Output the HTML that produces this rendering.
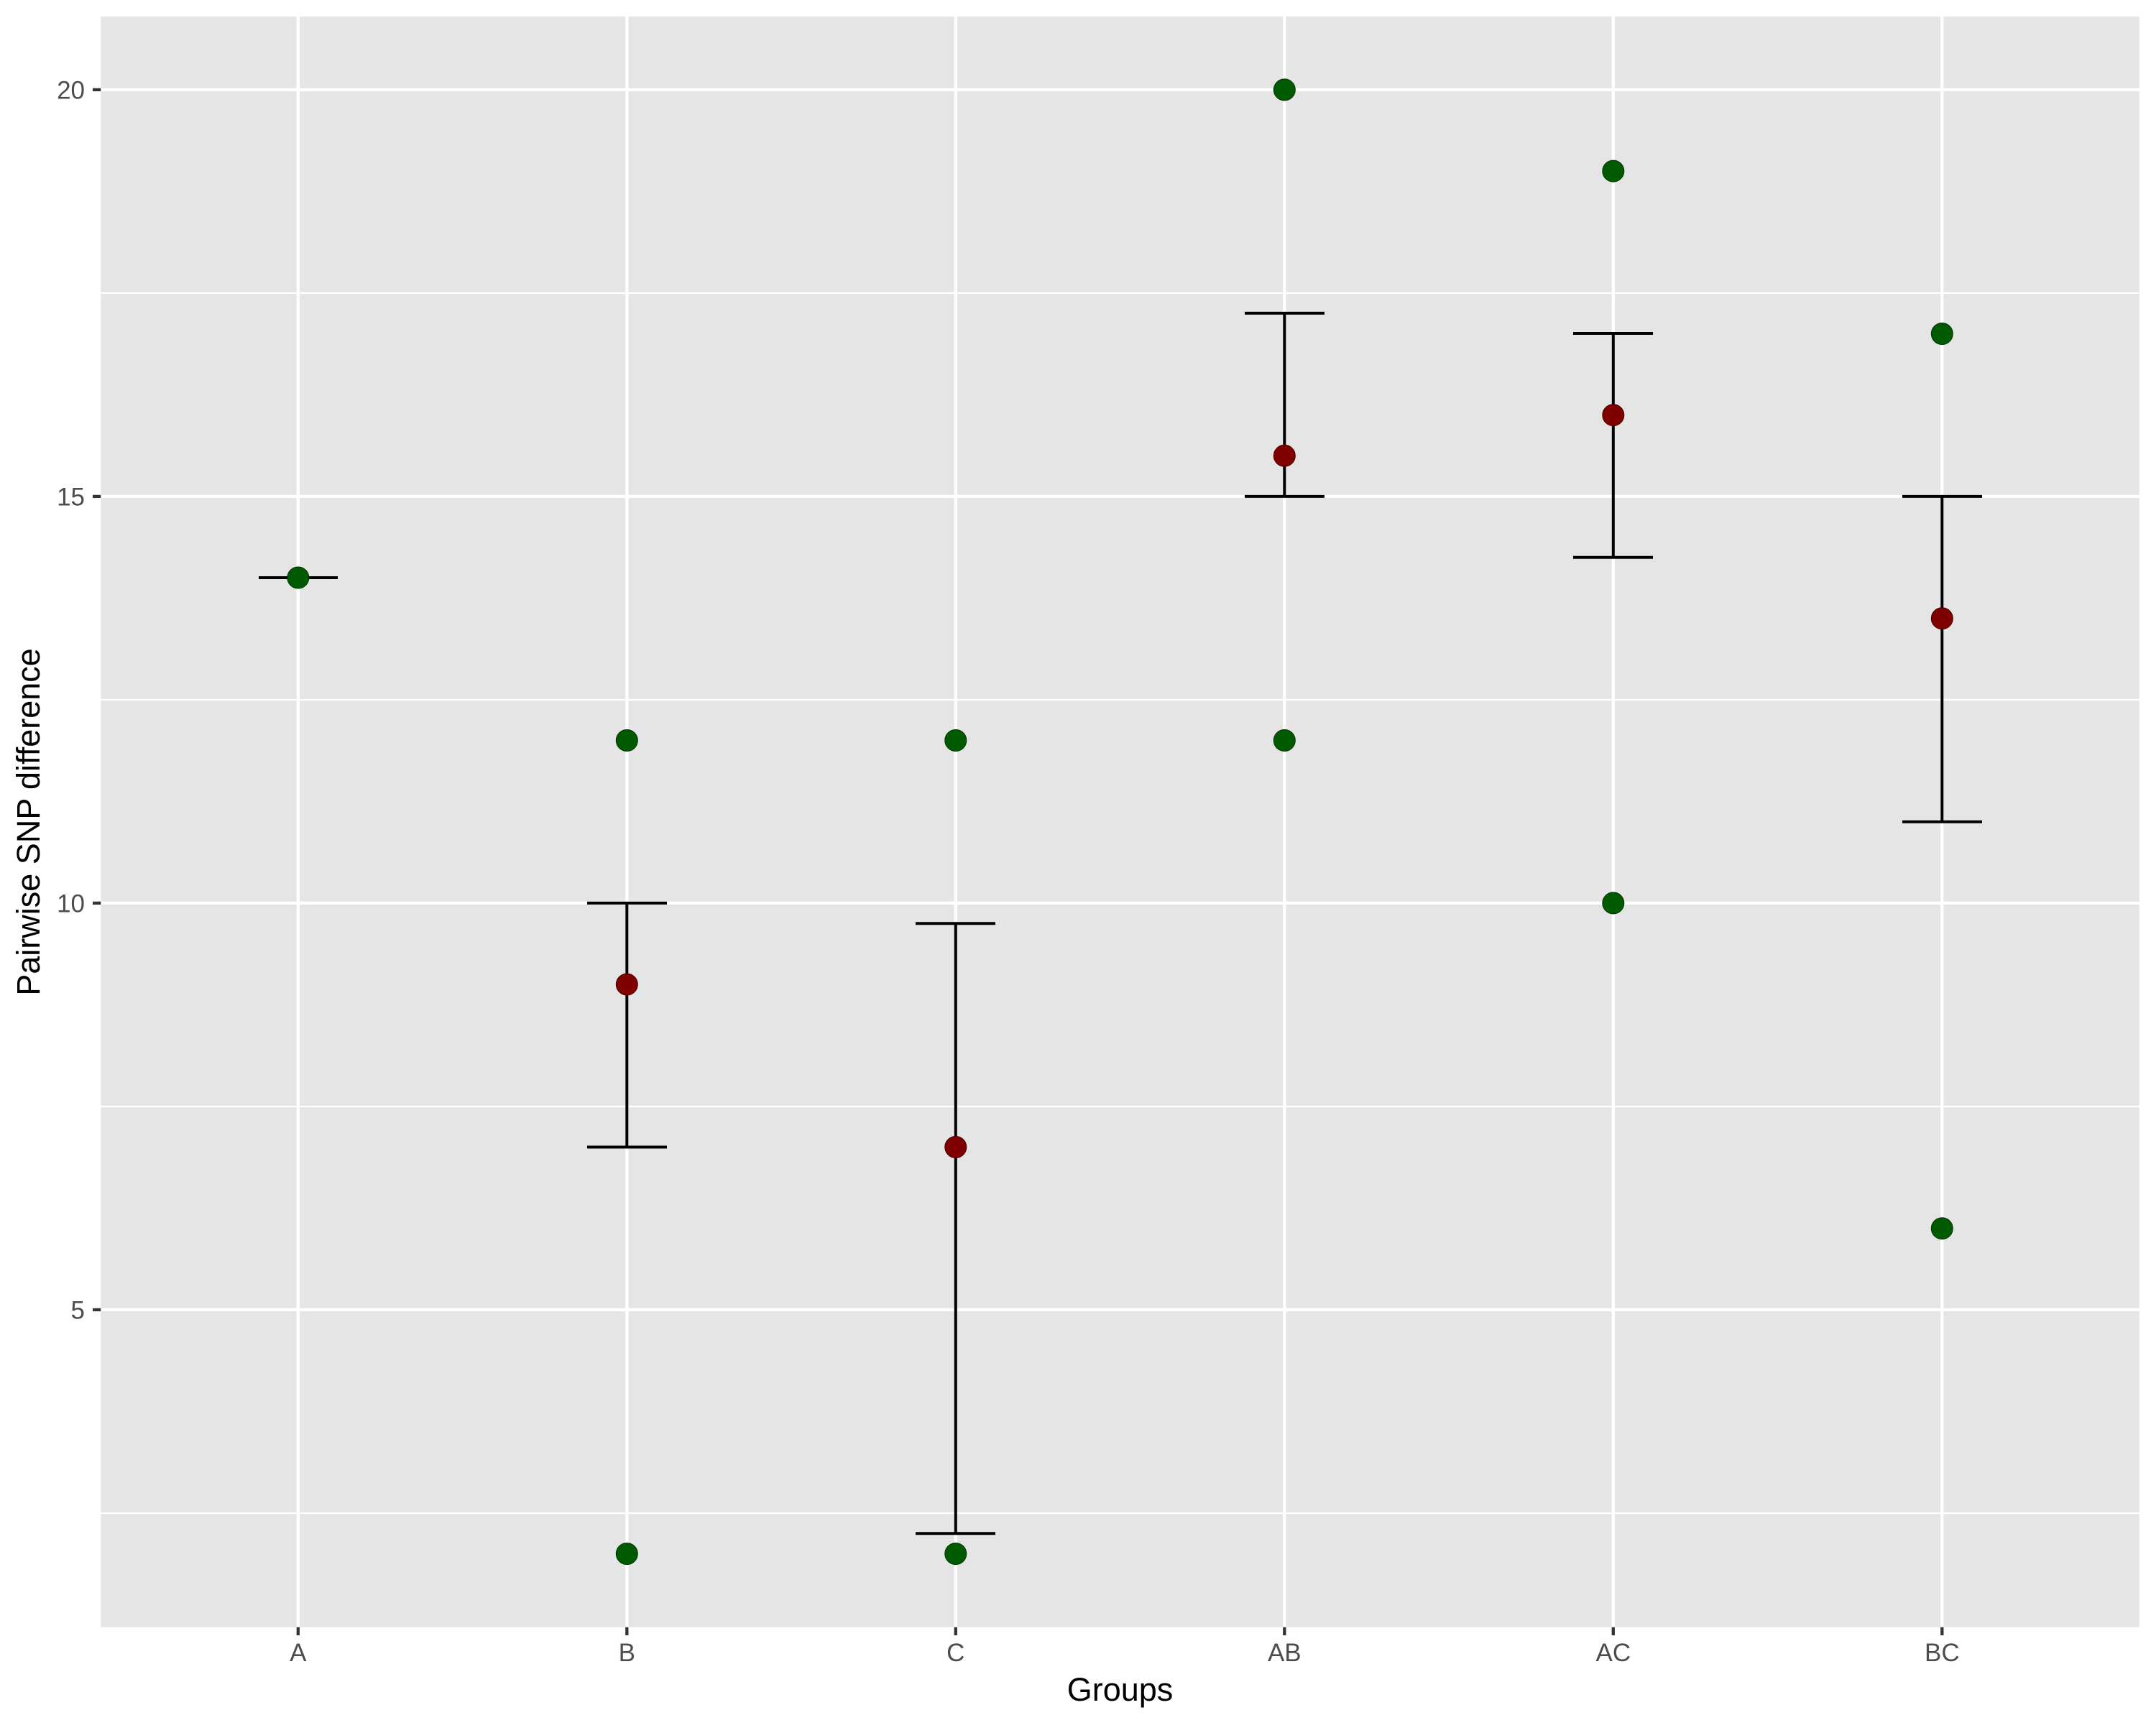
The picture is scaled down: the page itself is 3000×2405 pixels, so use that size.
<!DOCTYPE html>
<html><head><meta charset="utf-8"><style>html,body{margin:0;padding:0;background:#fff}</style></head>
<body>
<svg width="3000" height="2400" viewBox="0 0 3000 2400" xmlns="http://www.w3.org/2000/svg" font-family="Liberation Sans, Arial, sans-serif">
<rect x="140.3" y="23" width="2836.5" height="2241.7" fill="#e5e5e5"/>
<g stroke="#fff" stroke-width="2.2">
<line x1="140.3" x2="2976.8" y1="407.9" y2="407.9"/>
<line x1="140.3" x2="2976.8" y1="974" y2="974"/>
<line x1="140.3" x2="2976.8" y1="1540" y2="1540"/>
<line x1="140.3" x2="2976.8" y1="2106" y2="2106"/>
</g>
<g stroke="#fff" stroke-width="4.3">
<line x1="140.3" x2="2976.8" y1="124.9" y2="124.9"/>
<line x1="140.3" x2="2976.8" y1="690.9" y2="690.9"/>
<line x1="140.3" x2="2976.8" y1="1256.9" y2="1256.9"/>
<line x1="140.3" x2="2976.8" y1="1822.9" y2="1822.9"/>
<line x1="414.8" x2="414.8" y1="23" y2="2264.7"/>
<line x1="872.3" x2="872.3" y1="23" y2="2264.7"/>
<line x1="1329.8" x2="1329.8" y1="23" y2="2264.7"/>
<line x1="1787.3" x2="1787.3" y1="23" y2="2264.7"/>
<line x1="2244.8" x2="2244.8" y1="23" y2="2264.7"/>
<line x1="2702.3" x2="2702.3" y1="23" y2="2264.7"/>
</g>
<g stroke="#333" stroke-width="4.3">
<line x1="129" x2="140.3" y1="124.9" y2="124.9"/>
<line x1="129" x2="140.3" y1="690.9" y2="690.9"/>
<line x1="129" x2="140.3" y1="1256.9" y2="1256.9"/>
<line x1="129" x2="140.3" y1="1822.9" y2="1822.9"/>
<line x1="414.8" x2="414.8" y1="2264.7" y2="2276"/>
<line x1="872.3" x2="872.3" y1="2264.7" y2="2276"/>
<line x1="1329.8" x2="1329.8" y1="2264.7" y2="2276"/>
<line x1="1787.3" x2="1787.3" y1="2264.7" y2="2276"/>
<line x1="2244.8" x2="2244.8" y1="2264.7" y2="2276"/>
<line x1="2702.3" x2="2702.3" y1="2264.7" y2="2276"/>
</g>
<g fill="#4d4d4d" font-size="35" text-anchor="end">
<text x="118" y="137.5">20</text>
<text x="118" y="703.5">15</text>
<text x="118" y="1269.5">10</text>
<text x="118" y="1835.5">5</text>
</g>
<g fill="#4d4d4d" font-size="35" text-anchor="middle">
<text x="414.8" y="2312">A</text>
<text x="872.3" y="2312">B</text>
<text x="1329.8" y="2312">C</text>
<text x="1787.3" y="2312">AB</text>
<text x="2244.8" y="2312">AC</text>
<text x="2702.3" y="2312">BC</text>
</g>
<text x="1558.5" y="2367" font-size="45" text-anchor="middle" fill="#000">Groups</text>
<text transform="translate(55,1144) rotate(-90)" font-size="45" text-anchor="middle" fill="#000">Pairwise SNP difference</text>
<g stroke="#000" stroke-width="4" fill="none">
<path d="M360 804 H470"/>
<path d="M872.3 1256.9 V1596.5 M817 1256.9 H928 M817 1596.5 H928"/>
<path d="M1329.8 1285.2 V2134.2 M1274 1285.2 H1385 M1274 2134.2 H1385"/>
<path d="M1787.3 435.9 V690.9 M1732 435.9 H1843 M1732 690.9 H1843"/>
<path d="M2244.8 464 V775.8 M2189 464 H2300 M2189 775.8 H2300"/>
<path d="M2702.3 690.9 V1143.7 M2647 690.9 H2758 M2647 1143.7 H2758"/>
</g>
<g fill="#005a00" stroke="#003300" stroke-width="1">
<circle cx="414.8" cy="804" r="15"/>
<circle cx="872.3" cy="1030.5" r="15"/><circle cx="872.3" cy="2162.5" r="15"/>
<circle cx="1329.8" cy="1030.5" r="15"/><circle cx="1329.8" cy="2162.5" r="15"/>
<circle cx="1787.3" cy="124.9" r="15"/><circle cx="1787.3" cy="1030.5" r="15"/>
<circle cx="2244.8" cy="238.1" r="15"/><circle cx="2244.8" cy="1256.9" r="15"/>
<circle cx="2702.3" cy="464.5" r="15"/><circle cx="2702.3" cy="1709.7" r="15"/>
</g>
<g fill="#800000" stroke="#440000" stroke-width="1">
<circle cx="872.3" cy="1370.1" r="15"/>
<circle cx="1329.8" cy="1596.5" r="15"/>
<circle cx="1787.3" cy="634.3" r="15"/>
<circle cx="2244.8" cy="577.7" r="15"/>
<circle cx="2702.3" cy="860.7" r="15"/>
</g>
</svg>
</body></html>
